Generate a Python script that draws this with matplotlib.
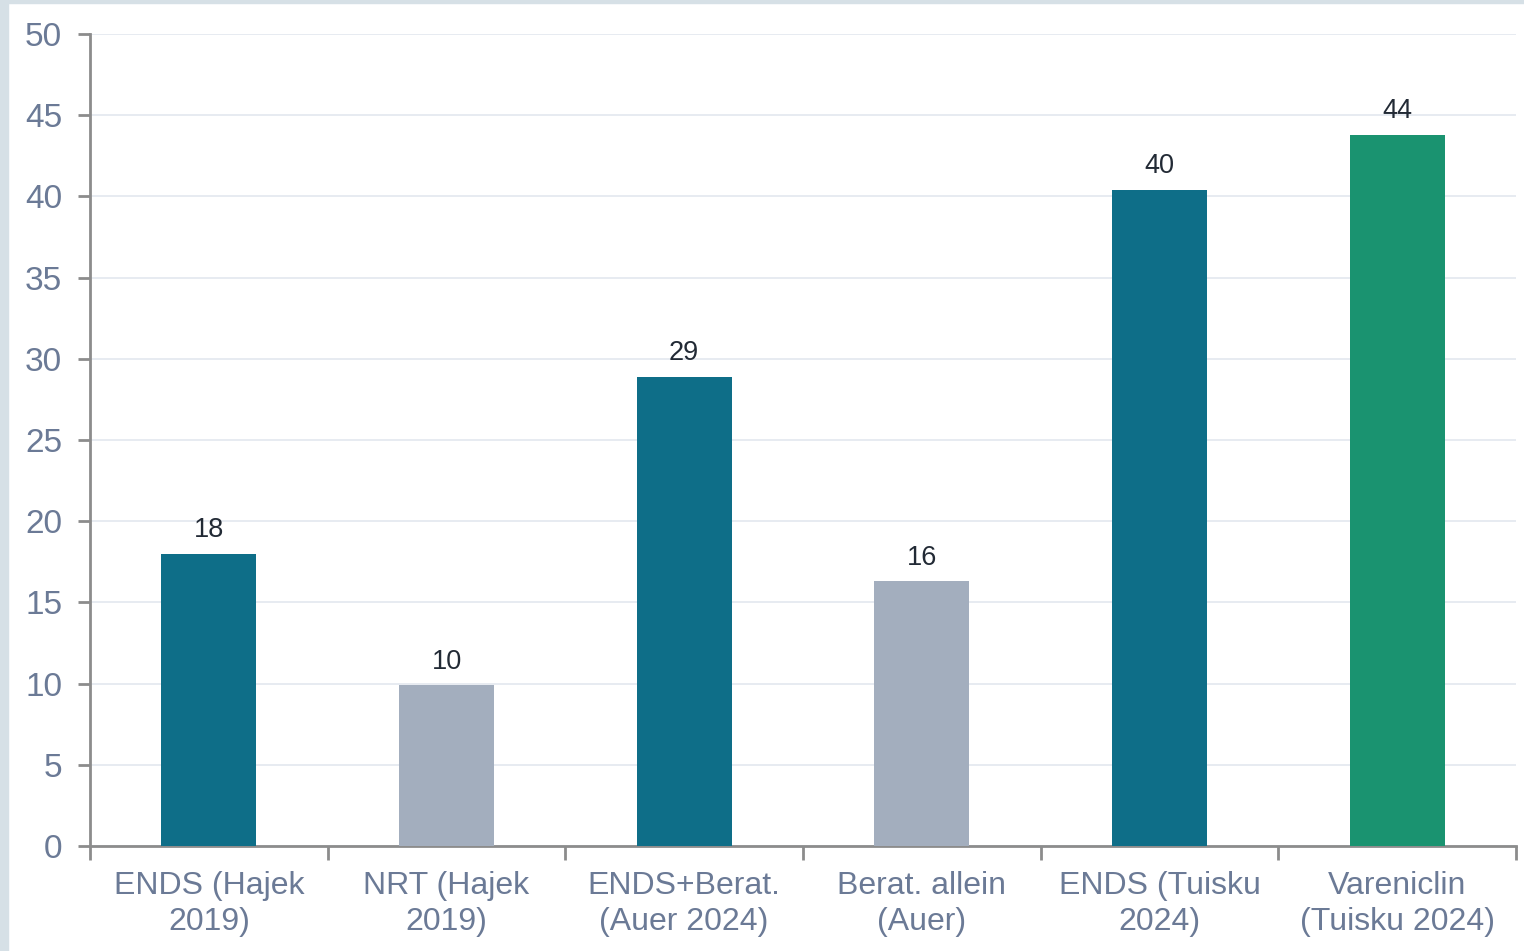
import matplotlib.pyplot as plt
from matplotlib.patches import Rectangle
from matplotlib.ticker import MultipleLocator

# Daten
kategorien = ["ENDS (Hajek\n2019)", "NRT (Hajek\n2019)", "ENDS+Berat.\n(Auer 2024)",
              "Berat. allein\n(Auer)", "ENDS (Tuisku\n2024)", "Vareniclin\n(Tuisku 2024)"]
werte = [18.0, 9.9, 28.9, 16.3, 40.4, 43.8]
beschriftung = ["18", "10", "29", "16", "40", "44"]
farben = ["#0e6e88", "#a3aebe", "#0e6e88", "#a3aebe", "#0e6e88", "#1a9370"]

plt.rcParams['font.family'] = ['Liberation Sans', 'DejaVu Sans']

fig = plt.figure(figsize=(15.24, 9.51), dpi=100)
# hellgrauer Rahmen links und oben
fig.patches.append(Rectangle((0, 0), 8 / 1524, 1, transform=fig.transFigure,
                             color="#d6e0e6", zorder=0))
fig.patches.append(Rectangle((0, 1 - 3 / 951), 1, 3 / 951, transform=fig.transFigure,
                             color="#d6e0e6", zorder=0))

ax = fig.add_axes([90 / 1524, 105 / 951, (1516 - 90) / 1524, (846 - 34) / 951])

x = list(range(len(werte)))
bars = ax.bar(x, werte, width=0.4, color=farben, zorder=3)
for xi, w, t in zip(x, werte, beschriftung):
    ax.text(xi, w + 0.65, t, ha="center", va="bottom", fontsize=19.5, color="#222a35", zorder=4)

ax.set_xlim(-0.5, len(werte) - 0.5)
ax.set_ylim(0, 50)
ax.yaxis.set_major_locator(MultipleLocator(5))
ax.grid(axis="y", color="#e3e8ef", linewidth=1.2, zorder=0)

ax.set_xticks(x)
ax.set_xticklabels(kategorien, linespacing=1.28)
ax.set_xticks([i - 0.5 for i in range(len(werte) + 1)], minor=True)
ax.tick_params(axis="x", which="major", length=0, pad=18, labelsize=23, labelcolor="#6b7a96")
ax.tick_params(axis="x", which="minor", length=10, width=2, color="#8c8c8c", direction="out")
ax.tick_params(axis="y", length=9, width=2, color="#8c8c8c", pad=11, labelsize=24,
               labelcolor="#6b7a96")

for s in ["top", "right"]:
    ax.spines[s].set_visible(False)
for s in ["left", "bottom"]:
    ax.spines[s].set_color("#8c8c8c")
    ax.spines[s].set_linewidth(2)

fig.savefig("out.png", dpi=100)
